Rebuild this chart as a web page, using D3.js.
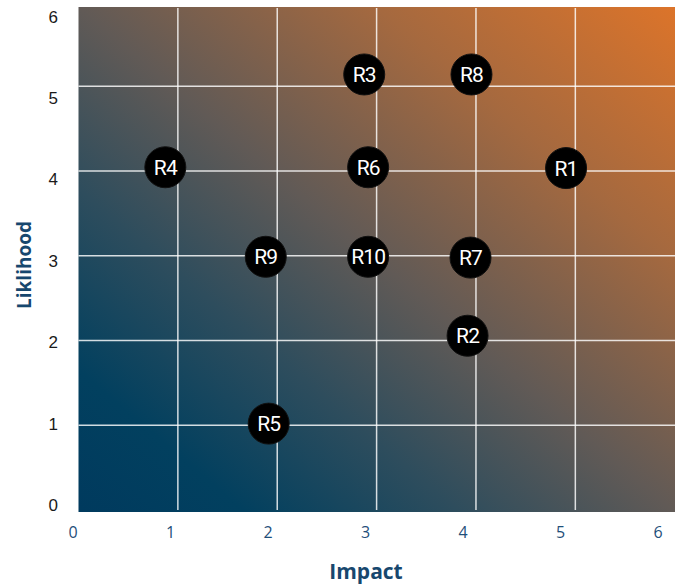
<!DOCTYPE html>
<html>
<head>
<meta charset="utf-8">
<script src="https://cdn.jsdelivr.net/npm/d3@7"></script>
<style>
  body { margin: 0; background: #fff; }
  #chart text { font-family: "Liberation Sans", Arial, sans-serif; }
</style>
</head>
<body>
<div id="chart"></div>
<script>
// Data
const risks = ['R1', 'R2', 'R3', 'R4', 'R5', 'R6', 'R7', 'R8', 'R9', 'R10'];
const impact = [5.06, 4.05, 2.99, 0.95, 2.01, 3.03, 4.08, 4.09, 1.98, 3.03];
const likelihood = [4.14, 2.08, 5.29, 4.15, 1.0, 4.15, 3.04, 5.29, 3.05, 3.05];
const tickValues = [0, 1, 2, 3, 4, 5, 6];
const gridValues = [1, 2, 3, 4, 5];

const width = 677;
const height = 584;

// plot box (the gradient panel)
const box = {left: 78.5, right: 675, top: 7, bottom: 512};

const svg = d3.select('#chart')
  .append('svg')
  .attr('width', width)
  .attr('height', height);

// scales used for ticks and points
const xScale = d3.scaleLinear().domain([0, 6]).range([72.7, 657.7]);
const yScale = d3.scaleLinear().domain([0, 6]).range([505, 16.7]);

// grid of the panel sits on its own spacing
const xGrid = d3.scaleLinear().domain([0, 6]).range([box.left, 674.7]);
const yGrid = d3.scaleLinear().domain([0, 6]).range([510, 1.5]);

// Background gradient
const defs = svg.append('defs');
const grad = defs.append('linearGradient')
  .attr('id', 'bg')
  .attr('x1', 0).attr('y1', 1)
  .attr('x2', 1).attr('y2', 0);
[
  [0, '#003a5e'],
  [0.14, '#02405f'],
  [0.32, '#2e4d5d'],
  [0.5, '#615a56'],
  [0.75, '#a5693f'],
  [1, '#dc742a'],
].forEach(([o, c]) => grad.append('stop').attr('offset', o).attr('stop-color', c));

svg.append('rect')
  .attr('x', box.left)
  .attr('y', box.top)
  .attr('width', box.right - box.left)
  .attr('height', box.bottom - box.top)
  .attr('fill', 'url(#bg)');

// Grid lines
const gridG = svg.append('g')
  .attr('stroke', 'rgba(255,255,255,0.82)')
  .attr('stroke-width', 1.5);

gridG.selectAll('.vline')
  .data(gridValues)
  .enter()
  .append('line')
  .attr('x1', (d) => xGrid(d))
  .attr('x2', (d) => xGrid(d))
  .attr('y1', box.top + 1)
  .attr('y2', box.bottom - 2);

gridG.selectAll('.hline')
  .data(gridValues)
  .enter()
  .append('line')
  .attr('x1', box.left)
  .attr('x2', box.right)
  .attr('y1', (d) => yGrid(d))
  .attr('y2', (d) => yGrid(d));

// X Axis
const xAxis = d3.axisBottom(xScale)
  .tickValues(tickValues)
  .tickSize(0)
  .tickPadding(0)
  .tickFormat(d3.format('d'));

const xg = svg.append('g')
  .attr('transform', 'translate(0,527)')
  .call(xAxis);
xg.select('.domain').remove();
xg.selectAll('text')
  .attr('fill', '#1f4f7a')
  .attr('font-size', 16)
  .style('font-family', '"Open Sans", sans-serif');

// Y Axis
const yAxis = d3.axisLeft(yScale)
  .tickValues(tickValues)
  .tickSize(0)
  .tickPadding(0)
  .tickFormat(d3.format('d'));

const yg = svg.append('g')
  .attr('transform', 'translate(58,0)')
  .call(yAxis);
yg.select('.domain').remove();
yg.selectAll('text')
  .attr('fill', '#1a1a1a')
  .attr('font-size', 17);

// Axis titles
svg.append('text')
  .attr('x', 366)
  .attr('y', 579)
  .attr('text-anchor', 'middle')
  .attr('fill', '#17476e')
  .attr('font-size', 21)
  .attr('font-weight', 'bold')
  .style('font-family', '"Open Sans", sans-serif')
  .text('Impact');

svg.append('text')
  .attr('transform', 'translate(31,265) rotate(-90)')
  .attr('text-anchor', 'middle')
  .attr('fill', '#17476e')
  .attr('font-size', 19)
  .attr('font-weight', 'bold')
  .style('font-family', '"Open Sans", sans-serif')
  .text('Liklihood');

// Risk points
const points = risks.map((r, i) => ({name: r, x: impact[i], y: likelihood[i]}));

const pg = svg.append('g')
  .selectAll('g')
  .data(points)
  .enter()
  .append('g')
  .attr('transform', (d) => `translate(${xScale(d.x)},${yScale(d.y)})`);

pg.append('circle')
  .attr('r', 20.5)
  .attr('fill', '#000')
  .attr('stroke', '#111')
  .attr('stroke-width', 1);

pg.append('text')
  .attr('text-anchor', 'middle')
  .attr('dy', '0.36em')
  .attr('fill', '#fff')
  .attr('font-size', 21)
  .attr('font-weight', 400)
  .attr('letter-spacing', -0.9)
  .style('font-family', 'Roboto, sans-serif')
  .text((d) => d.name);
</script>
</body>
</html>
